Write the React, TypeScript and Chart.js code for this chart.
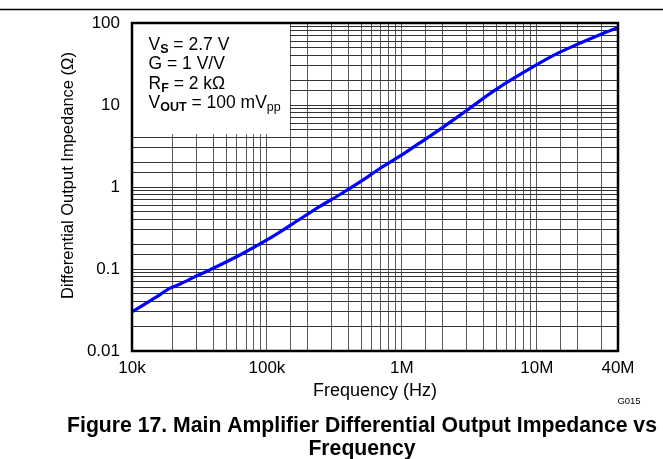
import React, { useEffect, useRef } from 'react';
import { Chart, registerables } from 'chart.js';

Chart.register(...registerables);

const FONT = 'Arial, "Liberation Sans", Helvetica, sans-serif';

// Frequency (Hz) and differential output impedance (Ohm)
const frequencyHz = [1e4, 1.5e4, 1.9e4, 2.3e4, 3e4, 4e4, 6.3e4, 1e5, 1.57e5, 2.47e5, 3.48e5, 5e5, 6.87e5, 1e6, 1.36e6, 2e6, 3e6, 5e6, 1e7, 1.4e7, 2e7, 3e7, 4e7];
const impedanceOhm = [0.030, 0.045, 0.058, 0.066, 0.082, 0.102, 0.148, 0.226, 0.36, 0.58, 0.81, 1.18, 1.68, 2.46, 3.45, 5.3, 8.5, 15.5, 31, 42, 55, 73, 88];

const xTickValues = [1e4, 1e5, 1e6, 1e7, 4e7];
const xTickLabels = ['10k', '100k', '1M', '10M', '40M'];
const yTickValues = [0.01, 0.1, 1, 10, 100];
const yTickLabels = ['0.01', '0.1', '1', '10', '100'];

const xTitle = 'Frequency (Hz)';
const yTitle = 'Differential Output Impedance (Ω)';
const captionLines = ['Figure 17. Main Amplifier Differential Output Impedance vs', 'Frequency'];
const figureCode = 'G015';

type Seg = { text: string; sub?: boolean; bold?: boolean };
const conditionLines: Seg[][] = [
  [{ text: 'V' }, { text: 'S', sub: true, bold: true }, { text: ' = 2.7 V' }],
  [{ text: 'G = 1 V/V' }],
  [{ text: 'R' }, { text: 'F', sub: true, bold: true }, { text: ' = 2 kΩ' }],
  [{ text: 'V' }, { text: 'OUT', sub: true, bold: true }, { text: ' = 100 mV' }, { text: 'pp', sub: true }],
];

// legend box extent in data coordinates
const boxMaxFreq = 1.48e5;
const boxMinOhm = 4.4;

function findLabel(v: number, values: number[], labels: string[]) {
  for (let i = 0; i < values.length; i++) {
    if (Math.abs(v / values[i] - 1) < 1e-6) return labels[i];
  }
  return '';
}

function drawRich(ctx: CanvasRenderingContext2D, x: number, y: number, segs: Seg[]) {
  let cx = x;
  for (const s of segs) {
    const size = s.sub ? 12.5 : 17.5;
    ctx.font = `${s.bold ? 'bold ' : ''}${size}px ${FONT}`;
    ctx.fillText(s.text, cx, y + (s.sub ? 3 : 0));
    cx += ctx.measureText(s.text).width;
  }
}

const overlayPlugin = {
  id: 'overlay',
  beforeDatasetsDraw(chart: any) {
    const { ctx, chartArea, scales } = chart;
    const bx = scales.x.getPixelForValue(boxMaxFreq);
    const by = scales.y.getPixelForValue(boxMinOhm);
    ctx.save();
    ctx.fillStyle = '#ffffff';
    ctx.fillRect(chartArea.left, chartArea.top, bx - chartArea.left, by - chartArea.top);
    ctx.fillStyle = '#000';
    ctx.textAlign = 'left';
    ctx.textBaseline = 'alphabetic';
    conditionLines.forEach((segs, i) => {
      drawRich(ctx, chartArea.left + 16.5, chartArea.top + 27 + i * 19.4, segs);
    });
    ctx.restore();
  },
  afterDraw(chart: any) {
    const { ctx, chartArea } = chart;
    ctx.save();
    // plot border
    ctx.strokeStyle = '#000';
    ctx.lineWidth = 2.5;
    ctx.strokeRect(chartArea.left, chartArea.top, chartArea.right - chartArea.left, chartArea.bottom - chartArea.top);
    // top separator line
    ctx.lineWidth = 1.5;
    ctx.beginPath();
    ctx.moveTo(0, 9.5);
    ctx.lineTo(chart.width, 9.5);
    ctx.stroke();

    ctx.fillStyle = '#000';
    // x title
    ctx.font = `18px ${FONT}`;
    ctx.textAlign = 'center';
    ctx.textBaseline = 'alphabetic';
    ctx.fillText(xTitle, (chartArea.left + chartArea.right) / 2, 396);
    // y title
    ctx.save();
    ctx.font = `16.5px ${FONT}`;
    ctx.translate(68, 175.5);
    ctx.rotate(-Math.PI / 2);
    ctx.textBaseline = 'middle';
    ctx.fillText(yTitle, 0, 0);
    ctx.restore();
    // figure code
    ctx.font = `9.5px ${FONT}`;
    ctx.fillText(figureCode, 629, 404);
    // caption
    ctx.font = `bold 21.2px ${FONT}`;
    ctx.fillText(captionLines[0], 362, 432);
    ctx.fillText(captionLines[1], 362, 455);
    ctx.restore();
  },
};

export default function App() {
  const canvasRef = useRef<HTMLCanvasElement | null>(null);

  useEffect(() => {
    if (!canvasRef.current) return;
    const chart = new Chart(canvasRef.current, {
      type: 'line',
      data: {
        datasets: [
          {
            data: frequencyHz.map((f, i) => ({ x: f, y: impedanceOhm[i] })),
            borderColor: '#0000ff',
            borderWidth: 3.2,
            pointRadius: 0,
            cubicInterpolationMode: 'monotone',
            fill: false,
          },
        ],
      },
      options: {
        responsive: false,
        animation: false,
        devicePixelRatio: 1,
        layout: { padding: { top: 23, right: 45, bottom: 0, left: 0 } },
        plugins: {
          legend: { display: false },
          tooltip: { enabled: false },
          title: { display: false },
        },
        scales: {
          x: {
            type: 'logarithmic',
            min: 1e4,
            max: 4e7,
            afterFit: (s: any) => {
              s.height = 108;
            },
            grid: { color: '#5a5a5a', lineWidth: 1, drawTicks: false },
            border: { display: false },
            ticks: {
              autoSkip: false,
              maxRotation: 0,
              minRotation: 0,
              padding: 7.5,
              color: '#000',
              font: { family: FONT, size: 17 },
              callback: (v: any) => findLabel(Number(v), xTickValues, xTickLabels),
            },
          },
          y: {
            type: 'logarithmic',
            min: 0.01,
            max: 100,
            afterFit: (s: any) => {
              s.width = 132;
            },
            grid: { color: '#333333', lineWidth: 1, drawTicks: false },
            border: { display: false },
            ticks: {
              autoSkip: false,
              padding: 12,
              color: '#000',
              font: { family: FONT, size: 17 },
              callback: (v: any) => findLabel(Number(v), yTickValues, yTickLabels),
            },
          },
        },
      },
      plugins: [overlayPlugin],
    } as any);
    return () => chart.destroy();
  }, []);

  return (
    <div style={{ position: 'absolute', left: 0, top: 0, width: 663, height: 459, background: '#fff' }}>
      <canvas ref={canvasRef} width={663} height={459} style={{ display: 'block' }} />
    </div>
  );
}
